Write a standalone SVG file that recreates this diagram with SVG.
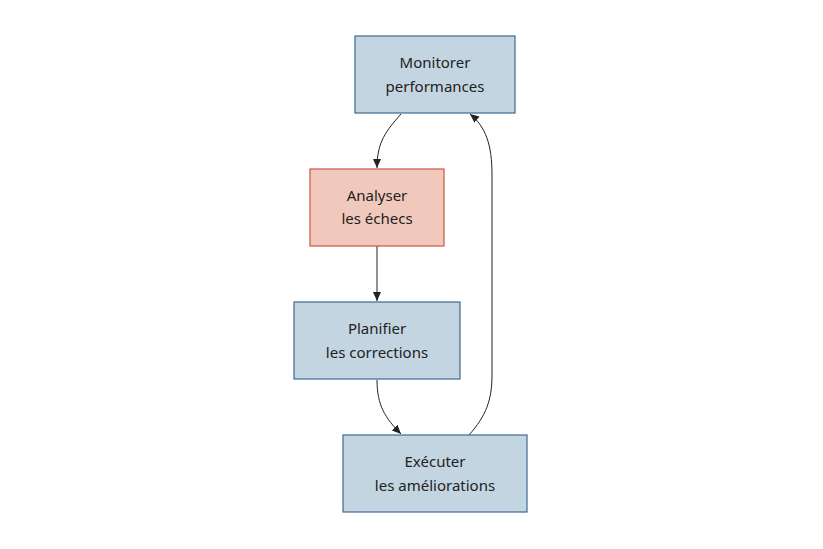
<svg xmlns="http://www.w3.org/2000/svg" width="823" height="549" viewBox="0 0 823 549">
<style>
.blue{fill:#c3d5e1;stroke:#3d6a8f;stroke-width:1.2}
.red{fill:#f0c8bc;stroke:#cc5544;stroke-width:1.2}
.lbl{font-family:"Noto Sans","Open Sans",sans-serif;font-size:15px;fill:#222;text-anchor:middle}
.edge{fill:none;stroke:#222;stroke-width:1}
</style>
<defs>
<marker id="arr" markerWidth="10" markerHeight="10" refX="9" refY="5" orient="auto" markerUnits="userSpaceOnUse">
<path d="M0,1 L9,5 L0,9 Z" fill="#222"/>
</marker>
</defs>
<rect width="823" height="549" fill="#fff"/>
<g id="edges">
<path class="edge" d="M401,114 C386,131 377,142 377,168" marker-end="url(#arr)"/>
<path class="edge" d="M377,246 L377,301" marker-end="url(#arr)"/>
<path class="edge" d="M377,380 C377,405 385,418 401,434" marker-end="url(#arr)"/>
<path class="edge" d="M469,435 C486,416 492,400 492,375 L492,175 C492,145 486,127 470,114" marker-end="url(#arr)"/>
</g>
<g id="n1">
<rect class="blue" x="355" y="36" width="160" height="77"/>
<text class="lbl" x="435" y="68">Monitorer</text>
<text class="lbl" x="435" y="92">performances</text>
</g>
<g id="n2">
<rect class="red" x="310" y="169" width="134" height="77"/>
<text class="lbl" x="377" y="201">Analyser</text>
<text class="lbl" x="377" y="224">les échecs</text>
</g>
<g id="n3">
<rect class="blue" x="294" y="302" width="166" height="77"/>
<text class="lbl" x="377" y="334">Planifier</text>
<text class="lbl" x="377" y="358">les corrections</text>
</g>
<g id="n4">
<rect class="blue" x="343" y="435" width="184" height="77"/>
<text class="lbl" x="435" y="467">Exécuter</text>
<text class="lbl" x="435" y="491">les améliorations</text>
</g>
</svg>
